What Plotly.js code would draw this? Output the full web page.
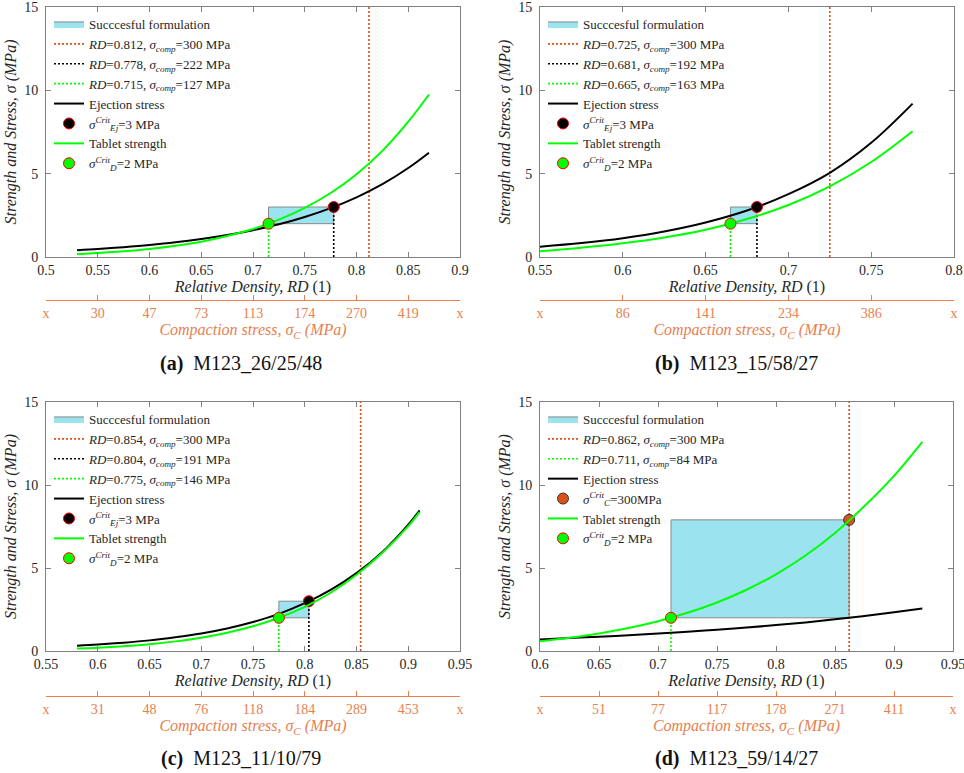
<!DOCTYPE html>
<html><head><meta charset="utf-8">
<script src="https://cdn.plot.ly/plotly-3.0.1.min.js"></script>
<style>html,body{margin:0;padding:0;background:#fff}#chart{width:964px;height:773px}</style>
</head><body><div id="chart"></div>
<script>
// ---------------- DATA ----------------
const yLim = [0, 15];
const yTicks = [0, 5, 10, 15];

// Panel (a) M123_26/25/48
const rdA = [0.53,0.55,0.575,0.6,0.625,0.65,0.675,0.7,0.725,0.75,0.775,0.8,0.825,0.85,0.87];
const ejA = [0.41,0.48,0.59,0.72,0.88,1.08,1.32,1.61,1.96,2.40,2.93,3.58,4.37,5.34,6.26];
const strA = [0.16,0.24,0.34,0.48,0.67,0.92,1.26,1.68,2.24,2.95,3.84,4.97,6.37,8.12,9.75];
const critRdA = [0.812, 0.778, 0.715];
const critCompA = [300, 222, 127];
const rdTicksA = [0.5,0.55,0.6,0.65,0.7,0.75,0.8,0.85,0.9];
const rdLabelsA = ['0.5','0.55','0.6','0.65','0.7','0.75','0.8','0.85','0.9'];
const compLabelsA = ['x','30','47','73','113','174','270','419','x'];

// Panel (b) M123_15/58/27
const rdB = [0.55,0.575,0.6,0.625,0.65,0.675,0.7,0.725,0.75,0.775];
const ejB = [0.62,0.84,1.13,1.53,2.07,2.79,3.77,5.05,6.85,9.2];
const strB = [0.34,0.56,0.82,1.17,1.64,2.28,3.12,4.24,5.70,7.55];
const critRdB = [0.725, 0.681, 0.665];
const critCompB = [300, 192, 163];
const rdTicksB = [0.55,0.6,0.65,0.7,0.75,0.8];
const rdLabelsB = ['0.55','0.6','0.65','0.7','0.75','0.8'];
const compLabelsB = ['x','86','141','234','386','x'];

// Panel (c) M123_11/10/79
const rdC = [0.58,0.6,0.625,0.65,0.675,0.7,0.725,0.75,0.775,0.8,0.825,0.85,0.875,0.9,0.911];
const ejC = [0.32,0.39,0.50,0.64,0.83,1.06,1.36,1.75,2.24,2.88,3.68,4.69,5.97,7.61,8.47];
const strC = [0.15,0.20,0.29,0.41,0.58,0.80,1.10,1.49,2.00,2.66,3.51,4.59,5.92,7.52,8.38];
const critRdC = [0.854, 0.804, 0.775];
const critCompC = [300, 191, 146];
const rdTicksC = [0.55,0.6,0.65,0.7,0.75,0.8,0.85,0.9,0.95];
const rdLabelsC = ['0.55','0.6','0.65','0.7','0.75','0.8','0.85','0.9','0.95'];
const compLabelsC = ['x','31','48','76','118','184','289','453','x'];

// Panel (d) M123_59/14/27
const rdD = [0.6,0.625,0.65,0.675,0.7,0.725,0.75,0.775,0.8,0.825,0.85,0.875,0.9,0.924];
const ejD = [0.70,0.78,0.86,0.95,1.05,1.16,1.28,1.41,1.56,1.72,1.91,2.11,2.33,2.56];
const strD = [0.58,0.80,1.06,1.38,1.79,2.30,2.92,3.69,4.62,5.75,7.11,8.73,10.55,12.6];
const critRdD = [0.862, 0.711];
const critCompD = [300, 84];
const sigCritD = 7.9;   // strength at sigma_C crit = 300 MPa
const rdTicksD = [0.6,0.65,0.7,0.75,0.8,0.85,0.9,0.95];
const rdLabelsD = ['0.6','0.65','0.7','0.75','0.8','0.85','0.9','0.95'];
const compLabelsD = ['x','51','77','117','178','271','411','x'];

const sigEjCrit = 3;
const sigDCrit = 2;

const captions = ['M123_26/25/48','M123_15/58/27','M123_11/10/79','M123_59/14/27'];

// ---------------- STYLE ----------------
const W = 964, H = 773;
const ORANGE = '#D95319';
const ORANGE_AX = '#E8804F';
const GREEN = '#00FF00';
const RECT = '#9BE3EF';
const FONT = 'Liberation Serif, DejaVu Serif, serif';
const px = v => v / W;
const py = v => 1 - v / H;

function rectTrace(x0, x1, y0, y1, ax, lg) {
  return {x: [x0, x1, x1, x0, x0], y: [y0, y0, y1, y1, y0], mode: 'lines', fill: 'toself',
    fillcolor: RECT, line: {color: '#8a8a8a', width: 1}, name: 'Succcesful formulation',
    xaxis: ax[0], yaxis: ax[1], legend: lg, hoverinfo: 'skip'};
}
function vline(x, y1, color, label, ax, lg) {
  return {x: [x, x], y: [yLim[0], y1], mode: 'lines', line: {color: color, width: 1.6, dash: '2px,2px'},
    name: label, xaxis: ax[0], yaxis: ax[1], legend: lg, hoverinfo: 'skip'};
}
function curve(x, y, color, label, ax, lg) {
  return {x: x, y: y, mode: 'lines', line: {color: color, width: 2, shape: 'spline'},
    name: label, xaxis: ax[0], yaxis: ax[1], legend: lg};
}
function marker(x, y, fill, edge, label, ax, lg) {
  return {x: [x], y: [y], mode: 'markers', marker: {size: 11, color: fill, line: {color: edge, width: 1}},
    name: label, xaxis: ax[0], yaxis: ax[1], legend: lg};
}
function rdLabel(rd, comp) {
  return '<i>RD</i>=' + rd.toFixed(3) + ', <i>σ<sub>comp</sub></i>=' + comp + ' MPa';
}
const ejLabel = '<i>σ<sup>Crit</sup><sub>Ej</sub></i>=' + sigEjCrit + ' MPa';
const dLabel = '<i>σ<sup>Crit</sup><sub>D</sub></i>=' + sigDCrit + ' MPa';

function standardPanel(rd, ej, st, crit, comp, ax, lg) {
  return [
    rectTrace(crit[2], crit[1], sigDCrit, sigEjCrit, ax, lg),
    vline(crit[0], yLim[1], ORANGE, rdLabel(crit[0], comp[0]), ax, lg),
    vline(crit[1], sigEjCrit, '#000000', rdLabel(crit[1], comp[1]), ax, lg),
    vline(crit[2], sigDCrit, GREEN, rdLabel(crit[2], comp[2]), ax, lg),
    curve(rd, ej, '#000000', 'Ejection stress', ax, lg),
    marker(crit[1], sigEjCrit, '#000000', '#FF0000', ejLabel, ax, lg),
    curve(rd, st, GREEN, 'Tablet strength', ax, lg),
    marker(crit[2], sigDCrit, GREEN, '#FF0000', dLabel, ax, lg)
  ];
}

let traces = [];
traces = traces.concat(standardPanel(rdA, ejA, strA, critRdA, critCompA, ['x','y'], 'legend'));
traces = traces.concat(standardPanel(rdB, ejB, strB, critRdB, critCompB, ['x2','y2'], 'legend2'));
traces = traces.concat(standardPanel(rdC, ejC, strC, critRdC, critCompC, ['x3','y3'], 'legend3'));
const axD = ['x4','y4'];
traces = traces.concat([
  rectTrace(critRdD[1], critRdD[0], sigDCrit, sigCritD, axD, 'legend4'),
  vline(critRdD[0], yLim[1], ORANGE, rdLabel(critRdD[0], critCompD[0]), axD, 'legend4'),
  vline(critRdD[1], sigDCrit, GREEN, rdLabel(critRdD[1], critCompD[1]), axD, 'legend4'),
  curve(rdD, ejD, '#000000', 'Ejection stress', axD, 'legend4'),
  marker(critRdD[0], sigCritD, ORANGE, '#333333', '<i>σ<sup>Crit</sup><sub>C</sub></i>=' + critCompD[0] + 'MPa', axD, 'legend4'),
  curve(rdD, strD, GREEN, 'Tablet strength', axD, 'legend4'),
  marker(critRdD[1], sigDCrit, GREEN, '#FF0000', dLabel, axD, 'legend4')
]);
// placeholder traces for compaction-stress axes
['5','6','7','8'].forEach(n => traces.push({x: [], y: [], mode: 'markers', xaxis: 'x' + n, yaxis: 'y' + n, showlegend: false, hoverinfo: 'skip'}));

// panel geometry (pixels)
const panels = [
  {l: 46, r: 460, t: 7, b: 257, strip: 300, ticks: rdTicksA, labels: rdLabelsA, comp: compLabelsA, cap: [241, 363]},
  {l: 540, r: 954, t: 7, b: 257, strip: 300, ticks: rdTicksB, labels: rdLabelsB, comp: compLabelsB, cap: [736, 363]},
  {l: 46, r: 460, t: 402, b: 651, strip: 696, ticks: rdTicksC, labels: rdLabelsC, comp: compLabelsC, cap: [241, 758]},
  {l: 540, r: 953, t: 402, b: 651, strip: 696, ticks: rdTicksD, labels: rdLabelsD, comp: compLabelsD, cap: [736, 758]}
];
const letters = ['a','b','c','d'];

const layout = {
  width: W, height: H, margin: {l: 0, r: 0, t: 0, b: 0},
  paper_bgcolor: '#fff', plot_bgcolor: '#fff',
  font: {family: FONT, size: 13, color: '#262626'},
  showlegend: true, annotations: []
};
panels.forEach((p, i) => {
  const n = i + 1, s = n === 1 ? '' : String(n), m = String(n + 4);
  const xRange = [p.ticks[0], p.ticks[p.ticks.length - 1]];
  layout['xaxis' + s] = {
    domain: [px(p.l), px(p.r)], anchor: 'y' + s, range: xRange,
    tickvals: p.ticks, ticktext: p.labels, ticks: 'inside', ticklen: 5, tickcolor: '#808080',
    showline: true, linecolor: '#808080', linewidth: 1, mirror: 'ticks',
    showgrid: false, zeroline: false, tickfont: {size: 14, color: '#262626'},
    ticklabeloverflow: 'allow',
    title: {text: '<i>Relative Density, RD</i> (1)', font: {size: 16, color: '#262626'}, standoff: 2}
  };
  layout['yaxis' + s] = {
    domain: [py(p.b), py(p.t)], anchor: 'x' + s, range: yLim,
    tickvals: yTicks, ticks: 'inside', ticklen: 5, tickcolor: '#808080',
    showline: true, linecolor: '#808080', linewidth: 1, mirror: 'ticks',
    showgrid: false, zeroline: false, tickfont: {size: 14, color: '#262626'},
    ticklabeloverflow: 'allow', ticklabelstandoff: 4,
    title: {text: '<i>Strength and Stress, σ (MPa)</i>', font: {size: 16, color: '#262626'}, standoff: 3}
  };
  layout['xaxis' + m] = {
    domain: [px(p.l), px(p.r)], anchor: 'y' + m, range: xRange,
    tickvals: p.ticks, ticktext: p.comp, ticks: 'inside', ticklen: 5, tickcolor: ORANGE_AX,
    showline: true, linecolor: ORANGE_AX, linewidth: 1, showgrid: false, zeroline: false,
    tickfont: {size: 14, color: ORANGE_AX}, ticklabeloverflow: 'allow',
    title: {text: '<i>Compaction stress, σ<sub>C</sub> (MPa)</i>', font: {size: 16, color: ORANGE_AX}, standoff: 4}
  };
  layout['yaxis' + m] = {domain: [py(p.strip), py(p.strip - 2)], anchor: 'x' + m, range: [0, 1], visible: false};
  const lgName = n === 1 ? 'legend' : 'legend' + n;
  layout[lgName] = {
    x: px(p.l + 3), y: py(p.t + 2), xanchor: 'left', yanchor: 'top',
    bgcolor: 'rgba(255,255,255,0)', borderwidth: 0, traceorder: 'normal',
    font: {family: FONT, size: 13, color: '#262626'}, itemwidth: 30
  };
  layout.annotations.push({
    text: '<b>(' + letters[i] + ')</b>  ' + captions[i], x: px(p.cap[0]), y: py(p.cap[1]),
    xref: 'paper', yref: 'paper', xanchor: 'center', yanchor: 'middle', showarrow: false,
    font: {family: FONT, size: 20, color: '#111'}
  });
});

Plotly.newPlot('chart', traces, layout, {displayModeBar: false, staticPlot: true});
</script>
</body></html>
